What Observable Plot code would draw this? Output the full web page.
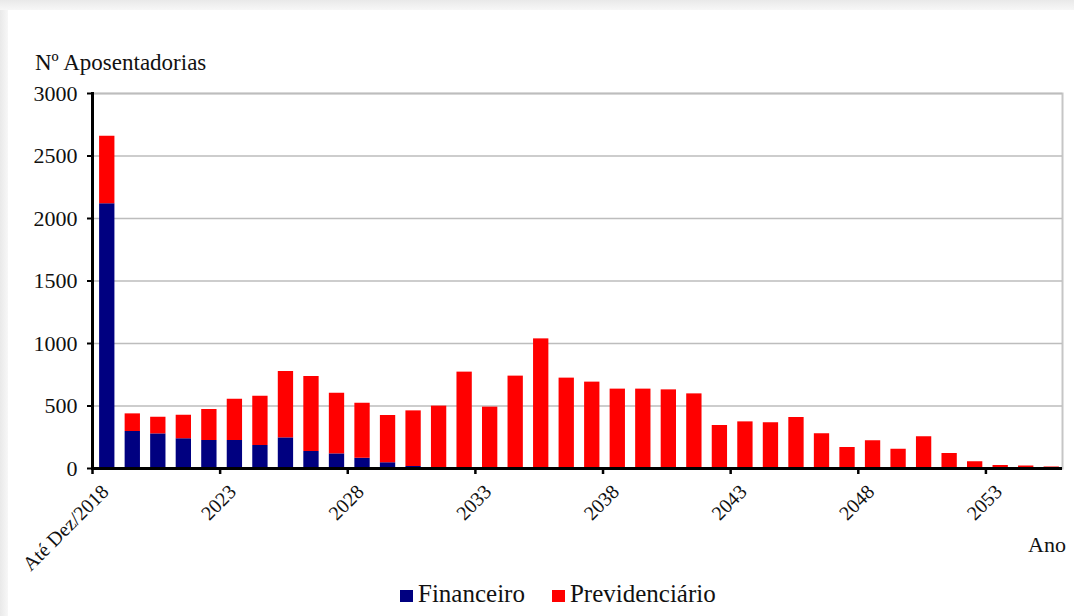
<!DOCTYPE html>
<html>
<head>
<meta charset="utf-8">
<script src="https://cdn.jsdelivr.net/npm/d3@7"></script>
<script src="https://cdn.jsdelivr.net/npm/@observablehq/plot@0.6"></script>
<style>
  body { margin: 0; background: #fff; }
  #wrap { position: relative; width: 1074px; height: 616px; overflow: hidden;
          font-family: "Liberation Serif", "Times New Roman", serif; color: #111; background: #fff; }
  #chart { position: absolute; left: 0; top: 0; }
  .stripL { position: absolute; left: 0; top: 0; width: 8px; height: 616px;
            background: linear-gradient(to right, #e9e9e9, #f7f7f7); }
  .stripT { position: absolute; left: 0; top: 0; width: 1074px; height: 10px;
            background: linear-gradient(to bottom, #e9e9e9, #f7f7f7); }
  .ytitle { position: absolute; left: 35px; top: 52px; font-size: 23px; line-height: 22px; white-space: nowrap; }
  .xtitle { position: absolute; left: 1028px; top: 534px; font-size: 22px; line-height: 22px; white-space: nowrap; }
  .legend { position: absolute; left: 400px; top: 581px; font-size: 25px; line-height: 25px; white-space: nowrap; }
  .legend span.sw { display: inline-block; width: 13px; height: 12px; vertical-align: baseline; margin-right: 5px; }
  .legend span.item { margin-right: 27px; }
</style>
</head>
<body>
<div id="wrap">
  <div id="chart"></div>
  <div class="stripL"></div>
  <div class="stripT"></div>
  <div class="ytitle">Nº Aposentadorias</div>
  <div class="xtitle">Ano</div>
  <div class="legend" id="legend"></div>
</div>
<script>
const categories = ["Até Dez/2018","2019","2020","2021","2022","2023","2024","2025","2026","2027",
  "2028","2029","2030","2031","2032","2033","2034","2035","2036","2037",
  "2038","2039","2040","2041","2042","2043","2044","2045","2046","2047",
  "2048","2049","2050","2051","2052","2053","2054","2055"];
const seriesNames = ["Financeiro", "Previdenciário"];
const seriesColors = ["#000080", "#ff0000"];
const financeiro = [2118,296,277,238,224,224,184,245,136,117,
  82,46,16,3,0,0,0,0,0,0,
  0,0,0,0,0,0,0,0,0,0,
  0,0,0,0,0,0,0,0];
const previdenciario = [540,141,133,188,248,330,394,531,600,485,
  440,378,445,496,771,491,739,1037,723,691,
  635,635,629,597,344,373,366,408,278,168,
  222,154,254,120,54,24,20,12];
const yTicks = [0,500,1000,1500,2000,2500,3000];
const xLabelCats = categories.filter((d, i) => i % 5 === 0);

const data = [];
categories.forEach((c, i) => {
  data.push({cat: c, series: seriesNames[0], value: financeiro[i]});
  data.push({cat: c, series: seriesNames[1], value: previdenciario[i]});
});

const W = 1074, H = 575, mL = 92, mR = 12, mT = 93, mB = 107;
const step = (W - mL - mR) / categories.length; // paddingInner .4 + 2*paddingOuter .2 => n steps

const plot = Plot.plot({
  width: W, height: H,
  marginLeft: mL, marginRight: mR, marginTop: mT, marginBottom: mB,
  style: {background: "transparent", fontFamily: "'Liberation Serif', 'Times New Roman', serif", color: "#111", overflow: "visible"},
  x: {domain: categories, paddingInner: 0.4, paddingOuter: 0.2, round: false, label: null},
  y: {domain: [0, 3000], label: null},
  color: {domain: seriesNames, range: seriesColors},
  marks: [
    Plot.frame({stroke: "#c6c6c6", strokeWidth: 2}),
    Plot.gridY(yTicks, {stroke: "#bdbdbd", strokeOpacity: 1, strokeWidth: 1.6}),
    Plot.barY(data, {x: "cat", y: "value", fill: "series", z: "series", order: seriesNames, dx: 2}),
    Plot.ruleY([0], {stroke: "black", strokeWidth: 3}),
    Plot.frame({anchor: "left", stroke: "black", strokeWidth: 3}),
    Plot.axisY(yTicks, {tickSize: 5, tickPadding: 10, fontSize: 22, stroke: "black", strokeWidth: 2, label: null, tickFormat: d => String(d)}),
    Plot.axisX(xLabelCats, {tickSize: 6, text: null, dx: -step / 2, stroke: "black", strokeWidth: 2.5, label: null}),
    Plot.axisX(xLabelCats, {tickSize: 0, tickPadding: 20, tickRotate: -45, fontSize: 20, label: null})
  ]
});
document.getElementById("chart").appendChild(plot);

const leg = document.getElementById("legend");
seriesNames.forEach((s, i) => {
  const item = document.createElement("span");
  item.className = "item";
  const sw = document.createElement("span");
  sw.className = "sw";
  sw.style.background = seriesColors[i];
  item.appendChild(sw);
  item.appendChild(document.createTextNode(s));
  leg.appendChild(item);
});
</script>
</body>
</html>
